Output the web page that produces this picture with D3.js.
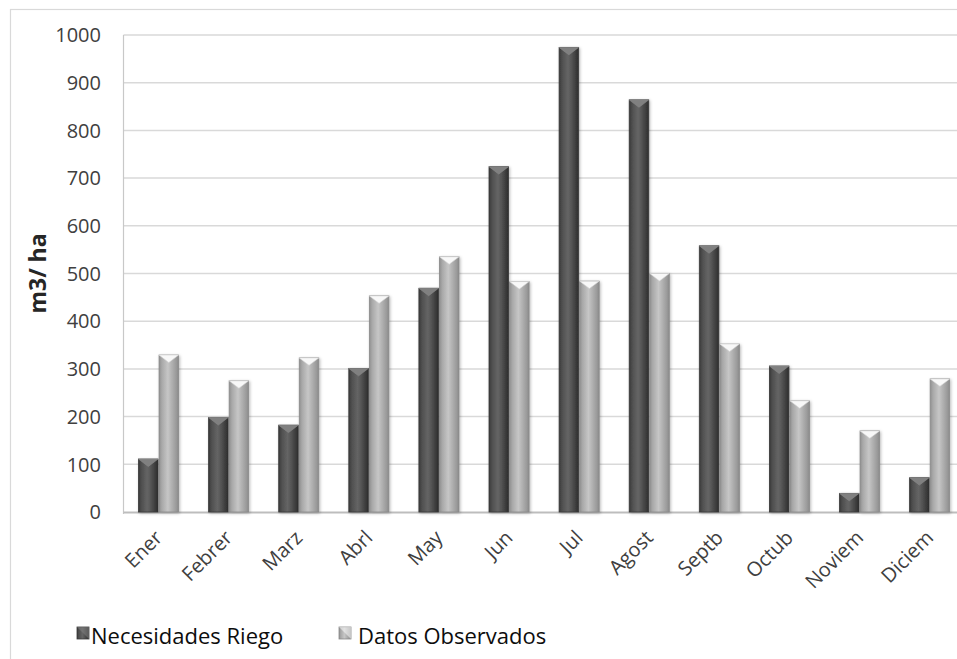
<!DOCTYPE html>
<html>
<head>
<meta charset="utf-8">
<script src="https://cdn.jsdelivr.net/npm/d3@7"></script>
<style>
  html, body { margin: 0; padding: 0; background: #fff; }
  svg { display: block; }
</style>
</head>
<body>
<svg id="chart" width="957" height="659"></svg>
<script>
// Monthly irrigation requirement vs. observed data (m3/ha)
const months = ["Ener", "Febrer", "Marz", "Abrl", "May", "Jun", "Jul", "Agost", "Septb", "Octub", "Noviem", "Diciem"];
const necesidadesRiego = [111, 198, 182, 301, 469, 724, 974, 864, 558, 306, 39, 72];
const datosObservados = [329, 275, 323, 453, 535, 483, 484, 500, 352, 233, 170, 279];
const seriesNames = ["Necesidades Riego", "Datos Observados"];
const yTicks = [0, 100, 200, 300, 400, 500, 600, 700, 800, 900, 1000];
const yTitle = "m3/ ha";

const FONT = "'Open Sans', 'DejaVu Sans', sans-serif";
const svg = d3.select("#chart");
const W = 957, H = 659;

const plot = { left: 123.5, right: 964.7, top: 35, bottom: 512 };

const x = d3.scaleBand().domain(months).range([plot.left, plot.right])
  .paddingInner(0.414).paddingOuter(0.207);
const xs = d3.scaleBand().domain(seriesNames).range([0, x.bandwidth()]).padding(0);
const y = d3.scaleLinear().domain([0, 1000]).range([plot.bottom, plot.top]);

const defs = svg.append("defs");

// bevel-like horizontal shading per series
const shades = {
  "Necesidades Riego": { stops: ["#383838", "#4e4e4e", "#656565", "#565656", "#3a3a3a", "#2e2e2e"], top: "#808080", topEdge: "#8a8a8a", stroke: "#3a3a3a" },
  "Datos Observados": { stops: ["#8f8f8f", "#a8a8a8", "#c6c6c6", "#b4b4b4", "#9a9a9a", "#8a8a8a"], top: "#f8f8f8", topEdge: "#d6d6d6", stroke: "#8a8a8a" }
};
const offsets = [0, 0.14, 0.45, 0.62, 0.88, 1];
seriesNames.forEach((s, i) => {
  const g = defs.append("linearGradient").attr("id", "grad" + i)
    .attr("x1", "0").attr("x2", "1").attr("y1", "0").attr("y2", "0");
  shades[s].stops.forEach((c, k) => g.append("stop").attr("offset", offsets[k]).attr("stop-color", c));
});
const f = defs.append("filter").attr("id", "shadow").attr("x", "-30%").attr("y", "-10%").attr("width", "160%").attr("height", "120%");
f.append("feDropShadow").attr("dx", 1).attr("dy", 1).attr("stdDeviation", 1.6)
  .attr("flood-color", "#000").attr("flood-opacity", 0.28);

// background and outer frame
svg.append("rect").attr("width", W).attr("height", H).attr("fill", "#fff");
svg.append("rect").attr("x", 10.5).attr("y", 9.5).attr("width", 980).attr("height", 700)
  .attr("fill", "none").attr("stroke", "#d9d9d9").attr("stroke-width", 1.2);

// gridlines
svg.append("g").selectAll("line").data(yTicks.filter(t => t > 0)).join("line")
  .attr("x1", plot.left).attr("x2", W + 10)
  .attr("y1", d => y(d)).attr("y2", d => y(d))
  .attr("stroke", "#d9d9d9").attr("stroke-width", 1.5);

// axis lines
svg.append("line").attr("x1", plot.left).attr("x2", plot.left)
  .attr("y1", plot.top).attr("y2", plot.bottom + 2)
  .attr("stroke", "#c8c8c8").attr("stroke-width", 1.2);
svg.append("line").attr("x1", plot.left).attr("x2", W + 10)
  .attr("y1", plot.bottom + 0.5).attr("y2", plot.bottom + 0.5)
  .attr("stroke", "#bdbdbd").attr("stroke-width", 2);

// y tick labels
svg.append("g").selectAll("text").data(yTicks).join("text")
  .attr("x", 101).attr("y", d => y(d)).attr("dy", "0.36em")
  .attr("text-anchor", "end").attr("font-family", FONT).attr("font-size", 20)
  .attr("fill", "#404040").text(d => d);

// y axis title
svg.append("text")
  .attr("transform", `translate(46, ${(plot.top + plot.bottom) / 2}) rotate(-90)`)
  .attr("text-anchor", "middle").attr("font-family", FONT).attr("font-size", 23)
  .attr("font-weight", "bold").attr("fill", "#262626").text(yTitle);

// bars
const rows = months.map((m, i) => ({ month: m, values: [necesidadesRiego[i], datosObservados[i]] }));
const groups = svg.append("g").selectAll("g").data(rows).join("g")
  .attr("transform", d => `translate(${x(d.month)},0)`);

groups.each(function (d) {
  const g = d3.select(this);
  seriesNames.forEach((s, i) => {
    const v = d.values[i];
    const bx = xs(s) + 0.5, bw = xs.bandwidth() - 1;
    const top = y(v), h = y(0) - y(v);
    const sh = shades[s];
    const bar = g.append("g");
    bar.append("rect").attr("x", bx).attr("y", top).attr("width", bw).attr("height", h)
      .attr("fill", `url(#grad${i})`).attr("stroke", sh.stroke).attr("stroke-width", 0.8)
      .attr("filter", "url(#shadow)");
    const depth = Math.min(bw * 0.38, h);
    bar.append("path")
      .attr("d", `M${bx},${top} L${bx + bw},${top} L${bx + bw / 2},${top + depth} Z`)
      .attr("fill", sh.top).attr("stroke", sh.topEdge).attr("stroke-width", 0.6);
  });
});

// x tick labels
svg.append("g").selectAll("text").data(months).join("text")
  .attr("transform", d => `translate(${x(d) + x.bandwidth() / 2 + 5}, 539) rotate(-45)`)
  .attr("text-anchor", "end").attr("font-family", FONT).attr("font-size", 20)
  .attr("fill", "#404040").text(d => d);

// legend
const legendItems = [
  { name: seriesNames[0], mx: 77, tx: 91 },
  { name: seriesNames[1], mx: 339, tx: 358 }
];
const lg = svg.append("g").selectAll("g").data(legendItems).join("g");
lg.append("rect").attr("x", d => d.mx).attr("y", 627).attr("width", 12).attr("height", 12)
  .attr("fill", (d, i) => `url(#grad${i})`).attr("stroke", (d, i) => shades[d.name].stroke).attr("stroke-width", 0.8);
lg.append("path")
  .attr("d", d => `M${d.mx},${627} L${d.mx + 12},${627} L${d.mx + 12},${639} Z`)
  .attr("fill", (d) => shades[d.name].top).attr("opacity", 0.55);
lg.append("text").attr("x", d => d.tx).attr("y", 644)
  .attr("font-family", FONT).attr("font-size", 22).attr("fill", "#0d0d0d").text(d => d.name);
</script>
</body>
</html>
